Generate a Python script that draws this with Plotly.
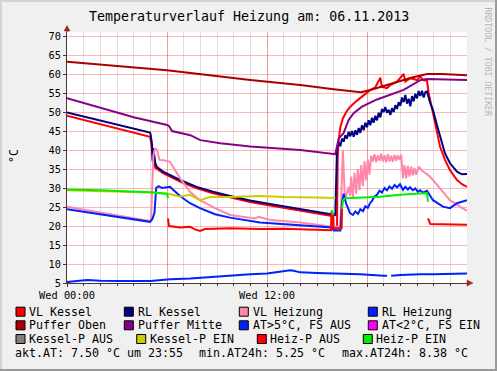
import plotly.graph_objects as go

# ---------------- data (hours since 00:00, °C) ----------------
VK_t = [0, 4.98, 5.05, 5.15, 5.3, 5.76, 6.78, 7.78, 8.76, 9.78, 10.98, 12.18, 13.98, 15.9, 15.95, 16.2,
        16.24, 16.3, 16.4, 16.55, 16.8, 17.0, 17.4, 17.8, 18.2, 18.5, 18.68, 18.8, 18.9, 19.2, 19.4, 19.8,
        20.2, 20.3, 20.6, 21.0, 21.2, 21.38, 21.6, 21.7, 21.96, 22.2, 22.38, 22.68, 22.98, 23.4, 23.7, 24]
VK_v = [49.0, 43.5, 42.0, 37.5, 35.3, 33.9, 31.7, 29.9, 28.6, 27.5, 26.3, 25.4, 24.0, 22.6, 19.3, 19.3,
        38.0, 42.5, 46.0, 48.3, 50.3, 51.4, 53.0, 54.3, 55.8, 56.5, 58.2, 59.0, 56.6, 56.3, 57.1, 58.0,
        60.0, 58.0, 58.9, 58.4, 59.3, 58.4, 58.2, 55.0, 49.7, 44.4, 40.9, 37.4, 34.7, 32.1, 31.0, 30.3]

RK_t = [0, 4.98, 5.02, 5.1, 5.14, 5.18, 5.3, 5.38, 5.76, 6.78, 7.78, 8.76, 9.78, 10.98, 12.18, 13.98,
        16.1, 16.14, 16.18,
        16.2, 16.3, 16.4, 16.5, 16.6, 16.7, 16.8, 16.9, 17.0, 17.1, 17.2, 17.3, 17.4, 17.5, 17.6, 17.7,
        17.8, 17.9, 18.0, 18.1, 18.2, 18.3, 18.4, 18.5, 18.6, 18.7, 18.8, 18.9, 19.0, 19.1, 19.2, 19.3,
        19.4, 19.5, 19.6, 19.7, 19.8, 19.9, 20.0, 20.1, 20.2, 20.3, 20.4, 20.5, 20.6, 20.7, 20.8, 20.9,
        21.0, 21.1, 21.2, 21.3, 21.4, 21.5, 21.6,
        21.78, 21.96, 22.2, 22.38, 22.68, 22.98, 23.4, 23.7, 24]
RK_v = [49.9, 44.6, 44.0, 41.5, 37.0, 40.5, 36.5, 35.6, 34.3, 32.1, 30.3, 29.0, 27.9, 26.7, 25.8, 24.4,
        22.9, 30.0, 38.0,
        40.5, 42.0, 41.0, 43.0, 42.2, 43.9, 43.0, 44.8, 43.6, 45.0, 43.5, 45.2, 44.0, 45.8, 44.5, 46.5,
        45.2, 47.2, 46.0, 47.8, 46.5, 48.5, 47.2, 49.0, 47.8, 49.8, 48.6, 50.8, 50.0, 51.3, 49.8, 50.6,
        49.2, 51.0, 50.0, 51.8, 50.8, 52.6, 51.6, 53.8, 52.6, 54.5, 52.2, 53.5, 51.5, 54.2, 52.8, 54.8,
        53.6, 55.5, 54.2, 55.6, 53.8, 55.2, 55.4,
        52.5, 50.5, 46.5, 43.5, 39.1, 36.5, 34.3, 33.6, 33.7]

VH_t = [0, 4.98, 5.05, 5.1, 5.18, 5.28, 5.4, 5.55, 5.8, 6.18, 6.48, 6.78, 7.38, 7.98, 8.88, 9.78, 11.28,
        11.5, 12.18, 14.0, 15.9, 16.4, 16.46, 16.55, 16.68, 16.9, 16.98, 17.05, 17.15, 17.25, 17.35, 17.45,
        17.55, 17.65, 17.75, 17.85, 17.95, 18.05, 18.15, 18.25, 18.35, 18.45, 18.55, 18.65, 18.75, 18.85,
        18.95, 19.05, 19.15, 19.25, 19.35, 19.45, 19.55, 19.65, 19.75, 19.85, 19.95, 20.05, 20.16, 20.25,
        20.35, 20.45, 20.55, 20.65, 20.75, 20.85, 20.95, 21.1, 21.3, 21.5, 21.78, 22.38, 22.98, 23.58, 24]
VH_v = [25.1, 21.3, 22.0, 27.0, 38.5, 40.5, 40.0, 37.4, 37.3, 36.9, 34.7, 32.6, 29.0, 26.8, 24.7, 22.9, 22.0,
        22.4, 21.6, 20.9, 19.8, 19.8, 28.0, 40.0, 26.8, 30.3, 28.0, 33.0, 27.5, 34.0, 28.5, 35.0,
        29.5, 36.0, 30.5, 37.0, 32.0, 37.5, 33.5, 38.5, 37.0, 38.9, 36.8, 38.6, 37.2, 39.0,
        37.0, 38.6, 36.8, 38.9, 37.0, 38.5, 36.9, 38.7, 37.2, 38.6, 37.4, 38.8, 32.5, 36.0,
        32.5, 35.8, 33.0, 35.6, 33.3, 35.2, 33.5, 35.6, 34.6, 34.0, 33.0, 29.9, 26.8, 25.1, 24.0]

RH_t = [0, 2.0, 4.98, 5.12, 5.25, 5.35, 5.5, 5.7, 6.0, 6.18, 6.3, 6.48, 6.78, 7.38, 7.98, 8.88, 9.78,
        11.58, 14.0, 15.9, 16.0, 16.4, 16.5, 16.6, 16.74, 16.98, 17.16, 17.3, 17.46, 17.6, 17.76, 17.9,
        18.05, 18.18, 18.3, 18.45, 18.6, 18.75, 18.9, 19.05, 19.2, 19.35, 19.5, 19.65, 19.8, 19.98, 20.16,
        20.3, 20.45, 20.58, 20.75, 20.9, 21.05, 21.18, 21.35, 21.6, 21.96, 22.56, 22.98, 23.4, 24]
RH_v = [24.4, 23.0, 21.1, 21.8, 23.5, 30.0, 30.5, 30.0, 30.3, 30.3, 29.8, 29.0, 27.9, 26.0, 24.7, 23.1, 22.2,
        20.9, 20.2, 19.6, 18.8, 18.8, 26.0, 28.5, 26.0, 23.4, 22.9, 23.8, 23.2, 24.4, 23.9, 25.2,
        24.8, 26.0, 26.6, 27.8, 28.2, 29.3, 28.8, 30.0, 29.4, 30.4, 29.8, 30.8, 30.2, 31.0, 29.5,
        30.3, 29.6, 30.2, 29.4, 29.9, 29.0, 29.4, 28.8, 29.3, 26.8, 25.1, 24.7, 26.0, 26.8]

PO_t = [0, 6, 11, 14, 16, 17.64, 18.2, 19.2, 20.2, 20.7, 21.6, 22.5, 24]
PO_v = [63.2, 61.0, 58.4, 57.1, 56.0, 55.2, 55.8, 57.1, 58.6, 59.1, 60.0, 60.0, 59.7]

PM_t = [0, 2, 4, 6, 6.12, 6.3, 7.4, 8.0, 9.2, 11, 14, 16.1, 16.3, 16.6, 16.9, 17.2, 17.7, 18.6, 20.2, 21.2,
        21.6, 24]
PM_v = [53.6, 51.0, 48.6, 46.6, 46.3, 45.0, 43.9, 42.6, 41.8, 40.9, 40.0, 38.9, 43.0, 44.5, 47.9, 49.7,
        51.4, 53.3, 55.8, 58.4, 58.7, 58.4]

AT_t = [0, 0.5, 1.2, 2.0, 3.0, 5.0, 6.2, 7.4, 8.0, 9.0, 10.0, 11.0, 12.0, 12.6, 12.9, 13.4, 13.6, 14.0,
        15.0, 16.0, 17.6, 19.0, 19.2, 19.3, 19.45, 20.0, 21.2, 22.0, 24.0]
AT_v = [5.25, 5.4, 5.8, 5.6, 5.5, 5.5, 6.0, 6.2, 6.4, 6.8, 7.1, 7.3, 7.5, 7.9, 8.2, 8.38, 8.2, 7.8,
        7.6, 7.55, 7.3, 6.9, 6.9, None, 6.9, 7.1, 7.3, 7.3, 7.5]

KPE_t = [0, 3, 5, 6.18, 6.78, 7.38, 7.68, 7.98, 8.58, 9.78, 11.58, 13.0, 15.0, 16.1]
KPE_v = [29.4, 29.1, 28.8, 28.4, 27.7, 28.2, 27.6, 26.8, 27.6, 27.6, 27.9, 27.6, 27.5, 27.4]

HPA_t = [6.06, 6.12, 6.78, 7.38, 7.68, 7.98, 8.28, 9.78, 11.58, 13.0, 15.84, 15.86, 15.87, 15.98, 16.0,
         16.48, 16.5, 16.51, 21.66, 21.8, 24]
HPA_v = [22.0, 20.0, 19.6, 19.8, 19.1, 18.7, 19.2, 19.4, 19.2, 19.3, 18.9, 23.8, None, 23.0, 19.4,
         19.4, 24.5, None, 22.0, 20.5, 20.3]

HPE_t = [0, 2, 5, 5.9, 6.0, 6.06, 6.07, 15.88, 15.96, 15.97, 16.5, 16.56, 16.68, 18.78, 19.98, 21.18,
         21.6, 21.66]
HPE_v = [29.6, 29.4, 28.9, 28.6, 28.5, 27.3, None, 24.2, 22.9, None, 24.5, 26.8, 27.3, 27.7, 28.2, 28.6,
         28.7, 26.4]

legend_names = ["VL Kessel", "RL Kessel", "VL Heizung", "RL Heizung",
                "Puffer Oben", "Puffer Mitte", "AT>5°C, FS AUS", "AT<2°C, FS EIN",
                "Kessel-P AUS", "Kessel-P EIN", "Heiz-P AUS", "Heiz-P EIN"]
legend_colors = ["#ff0000", "#000080", "#ff88aa", "#0022ff",
                 "#aa0000", "#880088", "#0022ff", "#ff00ff",
                 "#808080", "#cccc00", "#ff0000", "#00ee00"]

x_tickvals = [0, 6, 12, 18]
x_ticktext = ["Wed 00:00", "", "Wed 12:00", ""]
y_tickvals = [5, 10, 15, 20, 25, 30, 35, 40, 45, 50, 55, 60, 65, 70]

title_text = "Temperaturverlauf Heizung am: 06.11.2013"
foot_texts = ["akt.AT: 7.50 °C um 23:55", "min.AT24h: 5.25 °C", "max.AT24h: 8.38 °C"]

# ---------------- geometry ----------------
W, H = 497, 371
L, R, T, B = 67, 30, 32, 88
PW = W - L - R
PH = H - T - B
YMIN = 5
YMAX = 5 + PH / 3.8


def px(x):
    return (x - L) / PW


def py(y):
    return (H - B - y) / PH


MONO = "DejaVu Sans Mono"

series = [
    (VK_t, VK_v, 0), (RK_t, RK_v, 1), (VH_t, VH_v, 2), (RH_t, RH_v, 3),
    (PO_t, PO_v, 4), (PM_t, PM_v, 5), (AT_t, AT_v, 6),
    (KPE_t, KPE_v, 9), (HPA_t, HPA_v, 10), (HPE_t, HPE_v, 11),
]

fig = go.Figure()
for t, v, i in series:
    fig.add_trace(go.Scatter(x=t, y=v, mode="lines", name=legend_names[i],
                             line=dict(color=legend_colors[i], width=2),
                             connectgaps=False, showlegend=False, hoverinfo="skip"))

axis_col = "#4d3333"
fig.update_layout(
    width=W, height=H,
    margin=dict(l=L, r=R, t=T, b=B, pad=0),
    paper_bgcolor="#f0f0f0", plot_bgcolor="#ffffff",
    showlegend=False,
    xaxis=dict(range=[0, 24], tickmode="array", tickvals=x_tickvals, ticktext=x_ticktext,
               showgrid=True, gridcolor="rgba(255,0,0,0.28)", gridwidth=1, zeroline=False,
               showline=True, linecolor=axis_col, linewidth=1,
               ticks="outside", ticklen=3, tickcolor=axis_col,
               tickfont=dict(family=MONO, size=10.3, color="#000000"),
               minor=dict(tickmode="linear", tick0=0, dtick=1, showgrid=True, gridcolor="#e0e0e0",
                          ticks="outside", ticklen=2, tickcolor=axis_col),
               fixedrange=True),
    yaxis=dict(range=[YMIN, YMAX], tickmode="array", tickvals=y_tickvals,
               showgrid=True, gridcolor="rgba(255,0,0,0.28)", gridwidth=1, zeroline=False,
               showline=True, linecolor=axis_col, linewidth=1,
               ticks="outside", ticklen=3, tickcolor=axis_col,
               tickfont=dict(family=MONO, size=10.3, color="#000000"),
               fixedrange=True),
)

shapes = []
annotations = []

# arrows
shapes.append(dict(type="path", xref="paper", yref="paper",
                   path=f"M {px(64)},{py(31)} L {px(70)},{py(31)} L {px(67)},{py(25.5)} Z",
                   fillcolor="#aa2222", line=dict(color="#aa2222", width=0.5)))
shapes.append(dict(type="line", xref="paper", yref="paper", x0=px(67), x1=px(67), y0=1, y1=py(29),
                   line=dict(color=axis_col, width=1)))
shapes.append(dict(type="path", xref="paper", yref="paper",
                   path=f"M {px(467)},{py(280)} L {px(467)},{py(286)} L {px(473)},{py(283)} Z",
                   fillcolor="#aa2222", line=dict(color="#aa2222", width=0.5)))

# bevel border
shapes.append(dict(type="line", xref="paper", yref="paper", x0=px(0), x1=px(W), y0=py(1), y1=py(1),
                   line=dict(color="#d4d4d4", width=2)))
shapes.append(dict(type="line", xref="paper", yref="paper", x0=px(1), x1=px(1), y0=py(0), y1=py(H),
                   line=dict(color="#d4d4d4", width=2)))
shapes.append(dict(type="line", xref="paper", yref="paper", x0=px(0), x1=px(W), y0=py(H - 1), y1=py(H - 1),
                   line=dict(color="#9a9a9a", width=2)))
shapes.append(dict(type="line", xref="paper", yref="paper", x0=px(W - 1), x1=px(W - 1), y0=py(0), y1=py(H),
                   line=dict(color="#9a9a9a", width=2)))

# title
annotations.append(dict(text=title_text, xref="paper", yref="paper", x=px(249), y=py(16.5),
                        xanchor="center", yanchor="middle", showarrow=False,
                        font=dict(family=MONO, size=13.3, color="#000000")))
# y title
annotations.append(dict(text="°C", xref="paper", yref="paper", x=px(14), y=py(156),
                        xanchor="center", yanchor="middle", showarrow=False, textangle=-90,
                        font=dict(family=MONO, size=11.6, color="#000000")))
# watermark
annotations.append(dict(text="RRDTOOL / TOBI OETIKER", xref="paper", yref="paper", x=px(487.5), y=py(62),
                        xanchor="center", yanchor="middle", showarrow=False, textangle=90,
                        font=dict(family=MONO, size=8.2, color="#b8b8b8")))

# legend
legend_pos = [
    (16, 30, 311.7), (124.3, 138.3, 311.7), (239.3, 253.3, 311.7), (368.3, 382.3, 311.7),
    (16, 30, 325.3), (124.3, 138.3, 325.3), (239.3, 253.3, 325.3), (368.3, 382.3, 325.3),
    (16, 30, 339.0), (136.7, 150.7, 339.0), (257.3, 270.3, 339.0), (363.3, 376.3, 339.0),
]
for i, (sx, tx, cy) in enumerate(legend_pos):
    shapes.append(dict(type="rect", xref="paper", yref="paper",
                       x0=px(sx), x1=px(sx + 9), y0=py(cy + 4.5), y1=py(cy - 4.5),
                       fillcolor=legend_colors[i], line=dict(color="#000000", width=1)))
    annotations.append(dict(text=legend_names[i], xref="paper", yref="paper", x=px(tx - 0.7), y=py(cy),
                            xanchor="left", yanchor="middle", showarrow=False, borderpad=0, borderwidth=0,
                            font=dict(family=MONO, size=11.63, color="#000000")))

for txt, fx in zip(foot_texts, [15.3, 199.3, 342.0]):
    annotations.append(dict(text=txt, xref="paper", yref="paper", x=px(fx), y=py(353.3),
                            xanchor="left", yanchor="middle", showarrow=False, borderpad=0, borderwidth=0,
                            font=dict(family=MONO, size=11.63, color="#000000")))

fig.update_layout(shapes=shapes, annotations=annotations)
fig.write_html("out.html",
               config={"displayModeBar": False, "staticPlot": True},
               post_script="document.body.style.margin='0';document.body.style.padding='0';")
